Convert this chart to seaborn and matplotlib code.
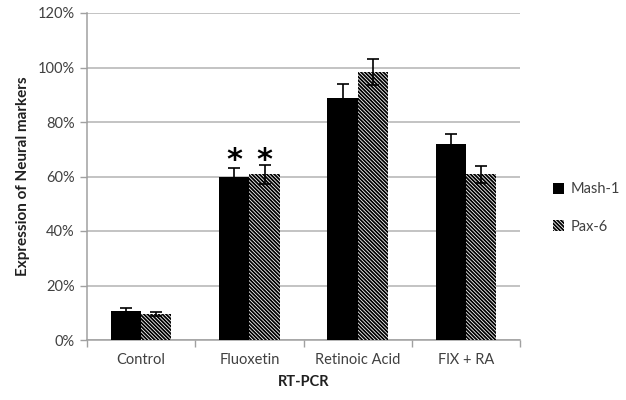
import matplotlib
matplotlib.use("Agg")
import matplotlib.pyplot as plt
import seaborn as sns
import pandas as pd
import numpy as np
from matplotlib.patches import Patch
from matplotlib.ticker import PercentFormatter, FixedLocator

categories = ["Control", "Fluoxetin", "Retinoic Acid", "FlX + RA"]
series = ["Mash-1", "Pax-6"]
mash1 = [10.8, 59.9, 88.8, 71.9]
pax6 = [9.5, 60.8, 98.3, 60.8]
mash1_err = [0.9, 3.1, 5.0, 3.8]
pax6_err = [0.8, 3.4, 4.7, 3.2]
star_categories = ["Fluoxetin"]
y_ticks = [0, 20, 40, 60, 80, 100, 120]

df = pd.DataFrame({
    "category": categories * 2,
    "marker": [series[0]] * 4 + [series[1]] * 4,
    "value": mash1 + pax6,
    "err": mash1_err + pax6_err,
})

HATCH = "\\" * 9

sns.set_theme(style="white")
plt.rcParams["font.family"] = ["Lato", "DejaVu Sans"]
plt.rcParams["hatch.linewidth"] = 1.3
plt.rcParams["hatch.color"] = "black"

fig = plt.figure(figsize=(6.26, 4.0), dpi=100)
ax = fig.add_axes([0.139, 0.15, 0.692, 0.8175])

sns.barplot(data=df, x="category", y="value", hue="marker", order=categories,
            hue_order=series, palette=["black", "white"], errorbar=None,
            width=0.56, gap=0, ax=ax, legend=False, edgecolor="none", linewidth=0,
            zorder=3)

bars = ax.patches
n = len(categories)
for i, p in enumerate(bars):
    if i >= n:
        p.set_facecolor("white")
        p.set_hatch(HATCH)
        p.set_edgecolor("black")
        p.set_linewidth(0)

# error bars
for i, p in enumerate(bars[:2 * n]):
    s = i // n
    c = i % n
    val = (mash1 if s == 0 else pax6)[c]
    err = (mash1_err if s == 0 else pax6_err)[c]
    xc = p.get_x() + p.get_width() / 2
    ax.errorbar(xc, val, yerr=err, fmt="none", ecolor="black", elinewidth=1.2,
                capsize=4, capthick=1.2, zorder=4)

# asterisks
for i, p in enumerate(bars[:2 * n]):
    c = i % n
    if categories[c] in star_categories:
        xc = p.get_x() + p.get_width() / 2
        ax.text(xc, 66.0, "*", ha="center", va="center", fontsize=22,
                fontweight="bold", color="black", family="DejaVu Sans", zorder=5)

ax.set_ylim(0, 120)
ax.set_xlim(-0.5, n - 0.5)
ax.yaxis.set_major_locator(FixedLocator(y_ticks))
ax.yaxis.set_major_formatter(PercentFormatter(decimals=0))
ax.grid(axis="y", color="#b3b3b3", linewidth=1.1, zorder=0)
ax.set_axisbelow(True)

for s in ["top", "right"]:
    ax.spines[s].set_visible(False)
for s in ["left", "bottom"]:
    ax.spines[s].set_color("#a0a0a0")
    ax.spines[s].set_linewidth(1.1)

ax.tick_params(axis="y", which="major", direction="out", length=5, width=1,
               color="#a0a0a0", labelsize=10.5, labelcolor="#404040", left=True, pad=4)
ax.tick_params(axis="x", which="major", length=0, labelsize=10.5,
               labelcolor="#404040", pad=9)
ax.set_xticks(np.arange(-0.5, n, 1.0), minor=True)
ax.tick_params(axis="x", which="minor", direction="out", length=5, width=1,
               color="#a0a0a0", bottom=True)

ax.set_xlabel("RT-PCR", fontsize=10.5, fontweight="bold", color="#202020", labelpad=6)
ax.set_ylabel("Expression of Neural markers", fontsize=11, fontweight="bold",
              color="#202020", labelpad=5)

handles = [Patch(facecolor="black", edgecolor="none", label=series[0]),
           Patch(facecolor="white", edgecolor="black", linewidth=0,
                 hatch=HATCH, label=series[1])]
fig.legend(handles=handles, loc="center left", bbox_to_anchor=(0.862, 0.48),
           frameon=False, handlelength=0.8, handleheight=0.8, handletextpad=0.4,
           labelspacing=1.6, fontsize=10.5, labelcolor="#404040")

fig.savefig("out.png", dpi=100)
